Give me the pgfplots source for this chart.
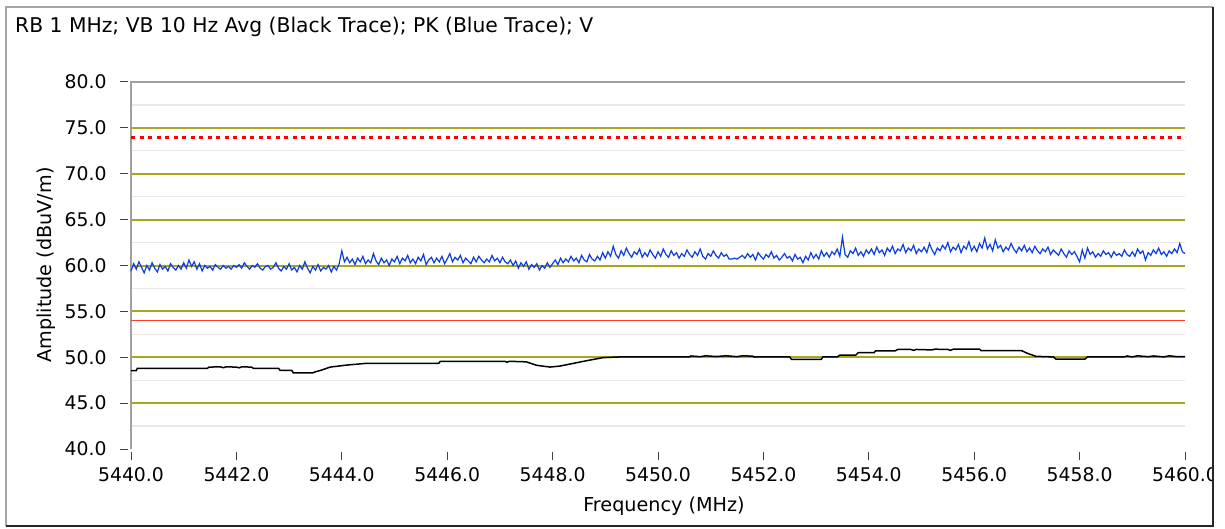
\documentclass[border=0pt]{standalone}
\usepackage{pgfplots}
\pgfplotsset{compat=1.18}
\usepackage{fontspec}
\setmainfont{DejaVu Sans}
\definecolor{tblue}{RGB}{12,62,222}
\definecolor{olivegrid}{RGB}{170,166,30}
\definecolor{minorgrid}{RGB}{232,232,232}
\definecolor{axgray}{RGB}{160,160,160}
\definecolor{redsolid}{RGB}{255,60,40}
\begin{document}
\begin{tikzpicture}[x=1pt,y=1pt]
\path[fill=white] (0,0) rectangle (1225,528);
\begin{axis}[
  at={(131pt,79pt)}, anchor=south west,
  scale only axis, width=1054pt, height=367pt,
  xmin=5440, xmax=5460, ymin=40, ymax=80,
  axis line style={draw=none},
  xtick={5440,5442,...,5460},
  minor x tick num=7,
  ytick={40,45,...,80},
  /pgf/number format/assume math mode=true,
  /pgf/number format/.cd, fixed, fixed zerofill, precision=1, use period, 1000 sep={},
  /pgfplots/.cd,
  tick align=outside,
  major tick length=8pt, minor tick length=4pt,
  x tick style={draw=black!75, line width=1pt, yshift=-3pt},
  y tick style={draw=black!75, line width=1pt, xshift=-3pt},
  xtick pos=bottom, ytick pos=left,
  ticklabel style={font=\fontsize{18.8}{20}\selectfont},
  xticklabel style={yshift=-7pt},
  yticklabel style={xshift=-13pt},
  clip=false,
]
% minor grid lines
\pgfplotsinvokeforeach{42.5,47.5,52.5,57.5,62.5,67.5,72.5,77.5}{
  \draw[minorgrid, line width=1.2pt] (axis cs:5440,#1) -- (axis cs:5460,#1);}
% major grid lines
\pgfplotsinvokeforeach{45,50,55,60,65,70,75}{
  \draw[olivegrid, line width=2pt] (axis cs:5440,#1) -- (axis cs:5460,#1);}
% axis lines
\draw[axgray, line width=1.5pt] (rel axis cs:0,0) -- (rel axis cs:0,1) -- (rel axis cs:1,1);
% limit lines
\addplot[redsolid, line width=1.6pt] coordinates {(5440,54.0) (5460,54.0)};
\addplot[red, line width=3pt, dash pattern=on 4pt off 4.5pt] coordinates {(5440,74.0) (5460,74.0)};
% black trace (average)
\addplot[black, line width=1.5pt] coordinates {
(5440.00,48.55) (5440.10,48.55) (5440.12,48.79) (5441.45,48.79) (5441.48,48.93) (5441.70,48.95)
(5441.75,48.86) (5441.80,48.95) (5442.00,48.93) (5442.05,48.85) (5442.10,48.95) (5442.29,48.93)
(5442.32,48.79) (5442.80,48.79) (5442.83,48.57) (5443.05,48.57) (5443.08,48.30) (5443.45,48.30)
(5443.50,48.42) (5443.60,48.57) (5443.78,48.93) (5444.10,49.15) (5444.47,49.34) (5445.84,49.34)
(5445.87,49.56) (5447.10,49.56) (5447.13,49.45) (5447.18,49.56) (5447.50,49.50) (5447.70,49.12)
(5447.95,48.93) (5448.14,49.04) (5448.33,49.26) (5448.65,49.63) (5448.96,49.96) (5449.30,50.04)
(5450.60,50.04) (5450.62,50.14) (5450.80,50.06) (5450.90,50.16) (5451.10,50.08) (5451.30,50.16)
(5451.50,50.06) (5451.60,50.16) (5451.80,50.12) (5451.82,50.04) (5452.50,50.04) (5452.53,49.78)
(5453.10,49.78) (5453.13,50.04) (5453.40,50.04) (5453.45,50.22) (5453.75,50.22) (5453.80,50.50)
(5454.10,50.50) (5454.13,50.70) (5454.50,50.70) (5454.55,50.85) (5454.80,50.85) (5454.85,50.75)
(5454.90,50.85) (5455.20,50.80) (5455.25,50.88) (5455.50,50.85) (5455.55,50.75) (5455.60,50.88)
(5456.10,50.88) (5456.13,50.72) (5456.90,50.72) (5457.00,50.45) (5457.17,50.10) (5457.50,50.04)
(5457.55,49.80) (5458.10,49.80) (5458.15,50.04) (5458.85,50.04) (5458.90,50.14) (5459.00,50.04)
(5459.10,50.16) (5459.30,50.06) (5459.40,50.14) (5459.60,50.04) (5459.70,50.16) (5459.85,50.06)
(5460.00,50.06)};
% blue trace (peak)
\addplot[tblue, line width=1.2pt] coordinates {
(5440.00,59.4) (5440.05,60.2) (5440.10,59.6) (5440.15,60.4) (5440.20,59.8) (5440.25,59.2) (5440.30,60.0) (5440.35,59.5) (5440.40,60.3) (5440.45,59.7)
(5440.50,59.3) (5440.55,60.1) (5440.60,59.6) (5440.65,59.9) (5440.70,59.4) (5440.75,60.2) (5440.80,59.8) (5440.85,59.5) (5440.90,60.0) (5440.95,59.6)
(5441.00,60.3) (5441.05,59.7) (5441.10,60.6) (5441.15,59.9) (5441.20,60.4) (5441.25,59.6) (5441.30,60.2) (5441.35,59.4) (5441.40,60.0) (5441.45,59.7)
(5441.50,59.9) (5441.55,59.5) (5441.60,60.1) (5441.65,59.8) (5441.70,59.6) (5441.75,60.0) (5441.80,59.7) (5441.85,59.9) (5441.90,59.6) (5441.95,60.0)
(5442.00,59.8) (5442.05,60.1) (5442.10,59.7) (5442.15,60.3) (5442.20,59.9) (5442.25,59.6) (5442.30,60.0) (5442.35,59.8) (5442.40,60.2) (5442.45,59.7)
(5442.50,59.5) (5442.55,59.9) (5442.60,60.0) (5442.65,59.6) (5442.70,59.8) (5442.75,60.3) (5442.80,59.7) (5442.85,59.4) (5442.90,59.9) (5442.95,59.6)
(5443.00,60.2) (5443.05,59.5) (5443.10,59.8) (5443.15,59.3) (5443.20,60.0) (5443.25,59.6) (5443.30,60.4) (5443.35,59.7) (5443.40,59.2) (5443.45,59.9)
(5443.50,59.5) (5443.55,60.1) (5443.60,59.4) (5443.65,59.8) (5443.70,59.6) (5443.75,60.0) (5443.80,59.3) (5443.85,59.9) (5443.90,59.5) (5443.95,60.2)
(5444.00,61.6) (5444.05,60.4) (5444.10,60.9) (5444.15,60.3) (5444.20,60.7) (5444.25,60.1) (5444.30,60.8) (5444.35,60.4) (5444.40,61.0) (5444.45,60.2)
(5444.50,60.6) (5444.55,60.3) (5444.60,61.3) (5444.65,60.5) (5444.70,60.1) (5444.75,60.8) (5444.80,60.3) (5444.85,60.6) (5444.90,60.0) (5444.95,60.7)
(5445.00,60.4) (5445.05,61.0) (5445.10,60.2) (5445.15,60.8) (5445.20,60.5) (5445.25,61.1) (5445.30,60.3) (5445.35,60.7) (5445.40,60.2) (5445.45,60.9)
(5445.50,60.5) (5445.55,61.2) (5445.60,60.1) (5445.65,60.6) (5445.70,60.9) (5445.75,60.3) (5445.80,60.8) (5445.85,60.4) (5445.90,61.0) (5445.95,60.2)
(5446.00,60.7) (5446.05,61.3) (5446.10,60.4) (5446.15,60.9) (5446.20,60.6) (5446.25,61.1) (5446.30,60.3) (5446.35,60.8) (5446.40,60.5) (5446.45,60.2)
(5446.50,60.9) (5446.55,60.4) (5446.60,61.0) (5446.65,60.6) (5446.70,60.3) (5446.75,60.7) (5446.80,60.4) (5446.85,61.1) (5446.90,60.5) (5446.95,60.8)
(5447.00,60.3) (5447.05,60.9) (5447.10,60.4) (5447.15,60.2) (5447.20,60.6) (5447.25,60.0) (5447.30,60.5) (5447.35,59.7) (5447.40,60.3) (5447.45,59.9)
(5447.50,60.4) (5447.55,59.6) (5447.60,60.1) (5447.65,59.8) (5447.70,60.2) (5447.75,59.5) (5447.80,60.0) (5447.85,59.7) (5447.90,60.3) (5447.95,59.8)
(5448.00,60.2) (5448.05,60.6) (5448.10,60.1) (5448.15,60.8) (5448.20,60.3) (5448.25,60.7) (5448.30,60.4) (5448.35,61.0) (5448.40,60.5) (5448.45,60.8)
(5448.50,60.3) (5448.55,61.1) (5448.60,60.6) (5448.65,60.4) (5448.70,61.2) (5448.75,60.7) (5448.80,60.5) (5448.85,61.0) (5448.90,60.6) (5448.95,61.4)
(5449.00,60.8) (5449.05,61.5) (5449.10,61.0) (5449.15,62.1) (5449.20,61.2) (5449.25,60.8) (5449.30,61.6) (5449.35,61.1) (5449.40,61.9) (5449.45,61.3)
(5449.50,60.9) (5449.55,61.5) (5449.60,61.2) (5449.65,61.8) (5449.70,60.9) (5449.75,61.4) (5449.80,61.0) (5449.85,61.7) (5449.90,61.2) (5449.95,60.8)
(5450.00,61.5) (5450.05,61.0) (5450.10,61.8) (5450.15,61.2) (5450.20,60.9) (5450.25,61.6) (5450.30,61.1) (5450.35,61.4) (5450.40,60.8) (5450.45,61.3)
(5450.50,61.0) (5450.55,61.7) (5450.60,61.2) (5450.65,60.9) (5450.70,61.5) (5450.75,61.1) (5450.80,61.8) (5450.85,61.0) (5450.90,60.7) (5450.95,61.3)
(5451.00,61.0) (5451.05,61.6) (5451.10,61.1) (5451.15,60.8) (5451.20,61.4) (5451.25,61.0) (5451.30,61.2) (5451.35,60.7) (5451.40,60.7) (5451.45,60.8)
(5451.50,60.7) (5451.55,60.9) (5451.60,61.1) (5451.65,60.8) (5451.70,61.3) (5451.75,60.9) (5451.80,61.2) (5451.85,60.6) (5451.90,61.4) (5451.95,61.0)
(5452.00,60.7) (5452.05,61.2) (5452.10,60.9) (5452.15,61.5) (5452.20,60.8) (5452.25,61.1) (5452.30,60.6) (5452.35,60.9) (5452.40,61.3) (5452.45,60.8)
(5452.50,61.0) (5452.55,60.5) (5452.60,61.2) (5452.65,60.7) (5452.70,60.9) (5452.75,60.3) (5452.80,61.0) (5452.85,60.6) (5452.90,61.4) (5452.95,60.8)
(5453.00,61.2) (5453.05,60.7) (5453.10,61.6) (5453.15,61.0) (5453.20,61.4) (5453.25,60.9) (5453.30,61.5) (5453.35,61.2) (5453.40,61.8) (5453.45,61.0)
(5453.50,63.1) (5453.55,61.2) (5453.60,60.9) (5453.65,61.6) (5453.70,61.3) (5453.75,61.9) (5453.80,61.1) (5453.85,61.5) (5453.90,61.0) (5453.95,61.7)
(5454.00,61.3) (5454.05,61.8) (5454.10,61.2) (5454.15,62.0) (5454.20,61.4) (5454.25,61.7) (5454.30,61.1) (5454.35,61.9) (5454.40,61.5) (5454.45,62.1)
(5454.50,61.3) (5454.55,61.8) (5454.60,61.6) (5454.65,62.3) (5454.70,61.4) (5454.75,61.9) (5454.80,61.6) (5454.85,62.2) (5454.90,61.3) (5454.95,61.8)
(5455.00,61.5) (5455.05,62.0) (5455.10,61.4) (5455.15,62.4) (5455.20,61.7) (5455.25,61.2) (5455.30,61.9) (5455.35,61.6) (5455.40,62.2) (5455.45,61.8)
(5455.50,62.5) (5455.55,61.5) (5455.60,62.0) (5455.65,61.7) (5455.70,62.3) (5455.75,61.4) (5455.80,62.1) (5455.85,61.8) (5455.90,62.6) (5455.95,61.6)
(5456.00,62.1) (5456.05,61.5) (5456.10,62.4) (5456.15,61.9) (5456.20,63.0) (5456.25,61.8) (5456.30,62.3) (5456.35,61.6) (5456.40,62.8) (5456.45,61.9)
(5456.50,62.2) (5456.55,61.5) (5456.60,62.0) (5456.65,61.7) (5456.70,62.4) (5456.75,61.8) (5456.80,61.4) (5456.85,62.0) (5456.90,61.6) (5456.95,62.2)
(5457.00,61.5) (5457.05,61.9) (5457.10,61.4) (5457.15,62.1) (5457.20,61.6) (5457.25,61.3) (5457.30,61.8) (5457.35,61.5) (5457.40,62.0) (5457.45,61.2)
(5457.50,61.7) (5457.55,61.4) (5457.60,61.1) (5457.65,61.8) (5457.70,61.3) (5457.75,60.9) (5457.80,61.6) (5457.85,61.2) (5457.90,61.5) (5457.95,61.0)
(5458.00,60.4) (5458.05,61.7) (5458.10,60.8) (5458.15,61.9) (5458.20,61.2) (5458.25,61.5) (5458.30,60.9) (5458.35,61.3) (5458.40,61.0) (5458.45,61.6)
(5458.50,61.2) (5458.55,61.4) (5458.60,60.9) (5458.65,61.5) (5458.70,61.1) (5458.75,61.3) (5458.80,61.0) (5458.85,61.7) (5458.90,61.2) (5458.95,61.0)
(5459.00,61.5) (5459.05,61.0) (5459.10,61.8) (5459.15,61.3) (5459.20,61.6) (5459.25,60.6) (5459.30,61.4) (5459.35,61.1) (5459.40,61.7) (5459.45,61.3)
(5459.50,61.9) (5459.55,61.2) (5459.60,61.5) (5459.65,61.0) (5459.70,61.6) (5459.75,61.3) (5459.80,61.8) (5459.85,61.4) (5459.90,62.4) (5459.95,61.5)
(5460.00,61.3)};
\end{axis}
% cover beyond frame
\path[fill=white] (1214,0) rectangle (1225,528);
% titles
\node[anchor=base west, inner sep=0pt, font=\fontsize{20.3}{22}\selectfont] at (15,495) {RB 1 MHz; VB 10 Hz Avg (Black Trace); PK (Blue Trace); V};
\node[rotate=90, inner sep=0pt, font=\fontsize{19.2}{21}\selectfont] at (46,263) {Amplitude (dBuV/m)};
\node[inner sep=0pt, font=\fontsize{19.2}{21}\selectfont] at (664,22) {Frequency (MHz)};
% frame
\draw[black!35, line width=2pt] (6,2) -- (6,521) -- (1213,521);
\draw[black!85, line width=2pt] (6,2) -- (1213,2) -- (1213,521);
\end{tikzpicture}
\end{document}
